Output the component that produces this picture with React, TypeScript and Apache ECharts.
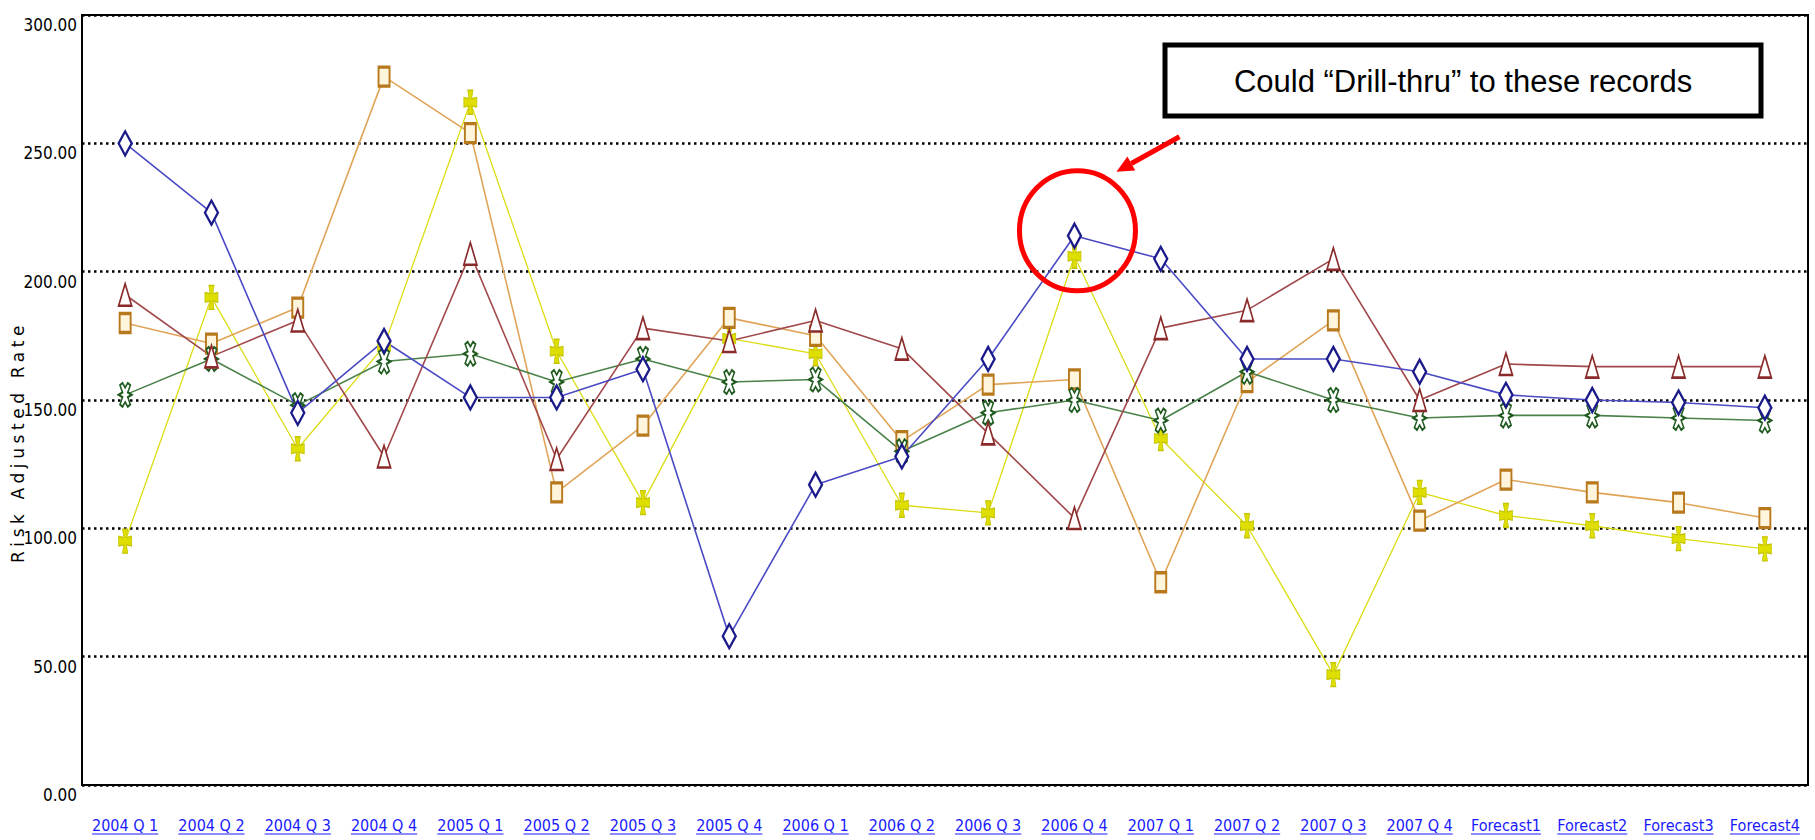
import React, { useEffect, useRef } from 'react';
import * as echarts from 'echarts';

// Quarter labels on the category axis
const categories = [
  '2004 Q 1', '2004 Q 2', '2004 Q 3', '2004 Q 4',
  '2005 Q 1', '2005 Q 2', '2005 Q 3', '2005 Q 4',
  '2006 Q 1', '2006 Q 2', '2006 Q 3', '2006 Q 4',
  '2007 Q 1', '2007 Q 2', '2007 Q 3', '2007 Q 4',
  'Forecast1', 'Forecast2', 'Forecast3', 'Forecast4',
];

// Risk adjusted rate per group
const blueRate = [250, 223, 145, 173, 151, 151, 162, 58, 117, 128, 166, 214, 205, 166, 166, 161, 152, 150, 149, 147];
const redRate = [191, 167, 181, 128, 207, 127, 178, 173, 181, 170, 137, 104, 178, 185, 205, 150, 164, 163, 163, 163];
const orangeRate = [180, 172, 186, 276, 254, 114, 140, 182, 175, 134, 156, 158, 79, 157, 181, 103, 119, 114, 110, 104];
const greenRate = [152, 166, 148, 165, 168, 157, 166, 157, 158, 130, 145, 150, 142, 161, 150, 143, 144, 144, 143, 142];
const yellowRate = [95, 190, 131, 171, 266, 169, 110, 174, 168, 109, 106, 206, 135, 101, 43, 114, 105, 101, 96, 92];

const yMin = 0;
const yMax = 300;
const yStep = 50;

const yTitle = 'Risk Adjusted Rate';
const highlightIndex = 11;
const calloutText = 'Could \u201CDrill-thru\u201D to these records';

const W = 1815;
const H = 840;
const NARROW = "'Liberation Sans Narrow', 'DejaVu Sans Condensed', 'Arial Narrow', sans-serif";
const LABEL_SIZE = 16;
const X_LABEL_MARGIN = 32;

const GREEN_SYMBOL =
  'path://M5 4 L7 0 L9 2 L7 8 L10 10 L7 12 L9 18 L7 20 L5 16 L3 20 L1 18 L3 12 L0 10 L3 8 L1 2 L3 0 Z';
const YELLOW_SYMBOL =
  'path://M3 0 L7 0 L6 7 L10 6 L10 14 L6 13 L7 20 L3 20 L4 13 L0 14 L0 6 L4 7 Z';

function lineSeries(name: string, data: number[], lineColor: string, symbol: string, size: number[], item: any, width = 1.6) {
  return {
    name,
    type: 'line',
    data,
    symbol,
    symbolSize: size,
    showSymbol: true,
    showAllSymbol: true,
    lineStyle: { color: lineColor, width },
    itemStyle: item,
    emphasis: { disabled: true },
  };
}

export default function App() {
  const ref = useRef<HTMLDivElement>(null);

  useEffect(() => {
    const el = ref.current;
    if (!el) return;
    const chart = echarts.init(el, null, { renderer: 'svg', width: W, height: H });

    chart.setOption({
      animation: false,
      backgroundColor: '#ffffff',
      grid: {
        left: 82,
        right: 7,
        top: 15,
        bottom: 55,
        show: true,
        borderColor: '#000',
        borderWidth: 2,
        containLabel: false,
      },
      xAxis: {
        type: 'category',
        data: categories,
        boundaryGap: true,
        axisLine: { lineStyle: { color: '#000', width: 2 } },
        axisTick: { show: false },
        axisLabel: {
          color: '#1a1aff',
          fontFamily: NARROW,
          fontSize: LABEL_SIZE,
          margin: X_LABEL_MARGIN,
          interval: 0,
        },
      },
      yAxis: {
        type: 'value',
        min: yMin,
        max: yMax,
        interval: yStep,
        axisLine: { show: true, lineStyle: { color: '#000', width: 2 } },
        axisTick: { show: false },
        axisLabel: {
          color: '#000',
          fontFamily: NARROW,
          fontSize: 17,
          margin: 5,
          verticalAlign: 'top',
          lineHeight: 20,
          formatter: (v: number) => v.toFixed(2),
        },
        splitLine: {
          show: true,
          lineStyle: { color: '#000', width: 2.5, type: [2.5, 3.5] },
        },
      },
      series: [
        lineSeries('Yellow', yellowRate, '#dcdc14', YELLOW_SYMBOL, [13, 24],
          { color: '#dede00', borderColor: '#c4c400', borderWidth: 1 }, 1.3),
        lineSeries('Orange', orangeRate, '#e0a458', 'rect', [11, 19],
          { color: '#fff4dc', borderColor: '#b8781c', borderWidth: 2.5 }),
        lineSeries('Green', greenRate, '#4a824a', GREEN_SYMBOL, [13, 24],
          { color: '#ffffff', borderColor: '#1f5a1f', borderWidth: 1.8 }),
        lineSeries('Red', redRate, '#a0484a', 'triangle', [13, 22],
          { color: '#ffffff', borderColor: '#8a2a2a', borderWidth: 2 }),
        lineSeries('Blue', blueRate, '#4a4ac4', 'diamond', [13, 24],
          { color: '#ffffff', borderColor: '#1a1a8a', borderWidth: 2.5 }),
      ],
    });

    // Underlines under the hyperlink-style category labels
    const ctx = document.createElement('canvas').getContext('2d');
    const graphics: any[] = [];
    if (ctx) {
      ctx.font = `${LABEL_SIZE}px ${NARROW}`;
      categories.forEach((label, i) => {
        const pt = chart.convertToPixel({ seriesIndex: 0 }, [i, 0]) as number[];
        const w = ctx.measureText(label).width;
        const y = pt[1] + X_LABEL_MARGIN + LABEL_SIZE + 1;
        graphics.push({
          type: 'line',
          silent: true,
          shape: { x1: pt[0] - w / 2, y1: y, x2: pt[0] + w / 2, y2: y },
          style: { stroke: '#1a1aff', lineWidth: 1.2 },
        });
      });
    }

    // Value axis title, read bottom to top
    graphics.push({
      type: 'text',
      id: 'y-title',
      silent: true,
      x: 18,
      y: 442,
      rotation: Math.PI / 2,
      style: {
        text: yTitle,
        fill: '#000',
        font: "17px 'DejaVu Sans', sans-serif",
        align: 'center',
        verticalAlign: 'middle',
      },
    });

    // Callout around the highlighted quarter
    const hp = chart.convertToPixel({ seriesIndex: 4 }, [highlightIndex, blueRate[highlightIndex]]) as number[];
    const tail = [hp[0] + 105, hp[1] - 99];
    const tip = [hp[0] + 42, hp[1] - 64];
    const dx = tip[0] - tail[0];
    const dy = tip[1] - tail[1];
    const len = Math.hypot(dx, dy);
    const ux = dx / len;
    const uy = dy / len;
    const headLen = 17;
    const headHalf = 8;
    const base = [tip[0] - ux * headLen, tip[1] - uy * headLen];

    graphics.push(
      {
        type: 'ellipse',
        silent: true,
        z: 100,
        shape: { cx: hp[0] + 3, cy: hp[1] - 5, rx: 58, ry: 60 },
        style: { fill: 'none', stroke: '#ff0000', lineWidth: 5 },
      },
      {
        type: 'line',
        silent: true,
        z: 100,
        shape: { x1: tail[0], y1: tail[1], x2: base[0], y2: base[1] },
        style: { stroke: '#ff0000', lineWidth: 5 },
      },
      {
        type: 'polygon',
        silent: true,
        z: 100,
        shape: {
          points: [
            tip,
            [base[0] - uy * headHalf, base[1] + ux * headHalf],
            [base[0] + uy * headHalf, base[1] - ux * headHalf],
          ],
        },
        style: { fill: '#ff0000' },
      },
      {
        type: 'rect',
        silent: true,
        z: 100,
        shape: { x: 1165, y: 45, width: 596, height: 71 },
        style: { fill: '#ffffff', stroke: '#000000', lineWidth: 5 },
      },
      {
        type: 'text',
        silent: true,
        z: 101,
        x: 1463,
        y: 81,
        style: {
          text: calloutText,
          fill: '#000',
          font: "31px 'Liberation Sans', Arial, sans-serif",
          align: 'center',
          verticalAlign: 'middle',
        },
      }
    );

    chart.setOption({ graphic: graphics });

    // Open up the axis title's letter spacing
    el.querySelectorAll('text').forEach((t) => {
      if (t.textContent === yTitle) t.setAttribute('letter-spacing', '4.6');
    });

    return () => chart.dispose();
  }, []);

  return (
    <div
      ref={ref}
      style={{ position: 'fixed', left: 0, top: 0, width: W, height: H, background: '#fff' }}
    />
  );
}
